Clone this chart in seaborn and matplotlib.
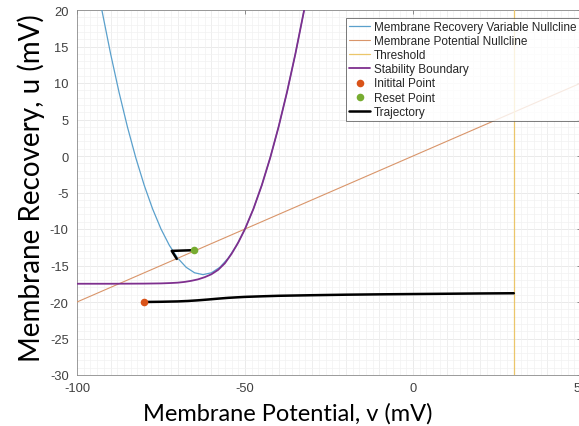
import matplotlib
matplotlib.use("Agg")
import matplotlib.pyplot as plt
import seaborn as sns
import numpy as np
import pandas as pd

# ---- data ----
v_nullcline_v = [-93, -92.5, -90, -87.5, -85, -82.5, -80, -77.5, -75, -72.5, -70, -67.5, -65, -62.5,
                 -60, -57.5, -55, -52.5, -50, -47.5, -45, -42.5, -40, -37.5, -35, -32.5, -32]
v_nullcline_u = [20.96, 19.75, 14, 8.75, 4, -0.25, -4, -7.25, -10, -12.25, -14, -15.25, -16, -16.25,
                 -16, -15.25, -14, -12.25, -10, -7.25, -4, -0.25, 4, 8.75, 14, 19.75, 20.96]

u_nullcline_v = [-100, 50]
u_nullcline_u = [-20, 10]

threshold_v = [30, 30]
threshold_u = [-30, 20]

boundary_v = [-100, -90, -80, -75, -72, -70, -68, -66, -64, -62, -60, -58, -56, -54, -52, -50,
              -47.5, -45, -42.5, -40, -37.5, -35, -32.5, -32]
boundary_u = [-17.5, -17.5, -17.48, -17.45, -17.4, -17.35, -17.25, -17.1, -16.9, -16.6, -16.2, -15.6,
              -14.7, -13.4, -11.84, -10, -7.25, -4, -0.25, 4, 8.75, 14, 19.75, 20.96]

initial_point = (-80, -20)
reset_point = (-65.2, -12.9)

traj1_v = [-80, -75, -70, -67, -64, -61, -58, -55, -52, -50, -45, -40, -30, -20, -10, 0, 10, 20, 30]
traj1_u = [-20, -19.97, -19.92, -19.86, -19.77, -19.66, -19.54, -19.43, -19.35, -19.3, -19.22, -19.15,
           -19.07, -19.0, -18.95, -18.91, -18.87, -18.83, -18.8]
traj2_v = [-65.2, -71.8, -70.3]
traj2_u = [-12.9, -13.0, -14.1]

x_ticks = [-100, -50, 0, 50]
y_ticks = [-30, -25, -20, -15, -10, -5, 0, 5, 10, 15, 20]

# ---- styling ----
sns.set_style("white")
plt.rcParams['font.family'] = ['Liberation Sans', 'DejaVu Sans']

c_blue = '#5aa0cc'
c_orange = '#d9956a'
c_yellow = '#ebc66a'
c_purple = '#7e2f8e'
c_red = '#d95319'
c_green = '#77ac30'

fig = plt.figure(figsize=(5.79, 4.27), dpi=100)
ax = fig.add_axes([77 / 579, 51 / 427, 504 / 579, 365 / 427])

def line(vx, vy, color, lw, label, zorder):
    df = pd.DataFrame({'v': vx, 'u': vy})
    sns.lineplot(data=df, x='v', y='u', sort=False, estimator=None, color=color,
                 linewidth=lw, label=label, ax=ax, zorder=zorder)

line(v_nullcline_v, v_nullcline_u, c_blue, 0.9, 'Membrane Recovery Variable Nullcline', 3)
line(u_nullcline_v, u_nullcline_u, c_orange, 0.8, 'Membrane Potential Nullcline', 3)
line(threshold_v, threshold_u, c_yellow, 0.9, 'Threshold', 3)
line(boundary_v, boundary_u, c_purple, 1.3, 'Stability Boundary', 4)
sns.scatterplot(x=[initial_point[0]], y=[initial_point[1]], color=c_red, s=30, edgecolor=c_red,
                linewidth=0, label='Initital Point', ax=ax, zorder=6)
sns.scatterplot(x=[reset_point[0]], y=[reset_point[1]], color=c_green, s=30, edgecolor=c_green,
                linewidth=0, label='Reset Point', ax=ax, zorder=6)
line(traj1_v, traj1_u, 'black', 1.8, 'Trajectory', 5)
line(traj2_v, traj2_u, 'black', 1.8, None, 5)

ax.set_xlim(-100, 50)
ax.set_ylim(-30, 20)
ax.set_xticks(x_ticks)
ax.set_yticks(y_ticks)
ax.set_xticklabels([str(t) for t in x_ticks])
ax.set_yticklabels([str(t) for t in y_ticks])

# grid
ax.set_xticks(np.arange(-100, 51, 2), minor=True)
ax.set_yticks(np.arange(-30, 21, 1), minor=True)
ax.grid(which='minor', color='#f1f1f1', linewidth=0.5)
for gx in range(-90, 50, 10):
    ax.axvline(gx, color='#e6e6e6', linewidth=0.6, zorder=0.5)
for gy in y_ticks:
    ax.axhline(gy, color='#e6e6e6', linewidth=0.6, zorder=0.5)
ax.set_axisbelow(True)

ax.tick_params(which='major', direction='in', length=3, width=0.6, color='#7a7a7a',
               labelsize=9.3, labelcolor='#404040', top=True, right=True)
ax.tick_params(axis='x', which='major', pad=5)
ax.tick_params(axis='y', which='major', pad=6)
ax.tick_params(which='minor', length=0)
for s in ax.spines.values():
    s.set_color('#8a8a8a')
    s.set_linewidth(0.6)

ax.set_xlabel('Membrane Potential, v (mV)', fontsize=17, family=['Lato', 'DejaVu Sans'],
              color='black')
ax.xaxis.set_label_coords(211 / 504, -27 / 365)
ax.set_ylabel('Membrane Recovery, u (mV)', fontsize=20, family=['Lato', 'DejaVu Sans'],
              color='black')
ax.yaxis.set_label_coords(-32 / 504, 188 / 365)

handles, labels = ax.get_legend_handles_labels()
leg = ax.legend(handles, labels, loc='upper left', bbox_to_anchor=(269 / 504, 1 - 8 / 365),
                fontsize=8.5, frameon=True, fancybox=False, edgecolor='#404040',
                handlelength=1.8, handletextpad=0.3, borderpad=0.25, labelspacing=0.18,
                borderaxespad=0)
leg.get_frame().set_linewidth(0.6)

fig.savefig('out.png', dpi=100)
